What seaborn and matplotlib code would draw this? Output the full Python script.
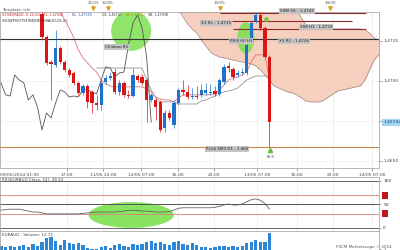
import numpy as np
import pandas as pd
import matplotlib
matplotlib.use("Agg")
import matplotlib.pyplot as plt
import seaborn as sns
from matplotlib.patches import Ellipse
from matplotlib.ticker import MultipleLocator

sns.set_style("white")
plt.rcParams['font.family'] = ['DejaVu Sans']

# ---------------- data ----------------
opens = [1.47419, 1.47275, 1.47119, 1.47100, 1.47206, 1.47119, 1.47069, 1.47050, 1.46988, 1.46925,
         1.46969, 1.46931, 1.46863, 1.46850, 1.46994, 1.47019, 1.47056, 1.46931, 1.46988, 1.46913,
         1.46906, 1.47031, 1.47025, 1.47006, 1.46881, 1.46881, 1.46869, 1.46706, 1.46800, 1.46725,
         1.46863, 1.46944, 1.46931, 1.46900, 1.46906, 1.46913, 1.46925, 1.46925, 1.46938, 1.46919,
         1.46994, 1.47094, 1.47075, 1.47038, 1.47050, 1.47050, 1.47244, 1.47375, 1.47413, 1.47331,
         1.47150]
highs = [1.47460, 1.47288, 1.47131, 1.47319, 1.47219, 1.47131, 1.47081, 1.47063, 1.47000, 1.46981,
         1.46981, 1.46944, 1.46913, 1.47006, 1.47038, 1.47056, 1.47081, 1.47006, 1.47000, 1.46944,
         1.47081, 1.47044, 1.47044, 1.47019, 1.46925, 1.46894, 1.46881, 1.46819, 1.46819, 1.46881,
         1.46956, 1.47006, 1.46975, 1.46956, 1.46969, 1.46981, 1.46988, 1.46981, 1.46969, 1.47019,
         1.47106, 1.47119, 1.47088, 1.47069, 1.47081, 1.47238, 1.47381, 1.47431, 1.47431, 1.47344,
         1.47163]
lows = [1.47256, 1.47100, 1.46881, 1.47088, 1.47106, 1.47056, 1.47025, 1.46975, 1.46913, 1.46913,
        1.46831, 1.46800, 1.46819, 1.46819, 1.46981, 1.47006, 1.46919, 1.46913, 1.46900, 1.46894,
        1.46900, 1.46994, 1.46975, 1.46744, 1.46869, 1.46756, 1.46681, 1.46681, 1.46756, 1.46706,
        1.46850, 1.46913, 1.46888, 1.46888, 1.46888, 1.46900, 1.46913, 1.46913, 1.46906, 1.46906,
        1.46981, 1.47056, 1.47006, 1.47025, 1.47038, 1.47038, 1.47256, 1.47363, 1.47319, 1.47144,
        1.46588]
closes = [1.47275, 1.47113, 1.47106, 1.47206, 1.47119, 1.47069, 1.47038, 1.46988, 1.46925, 1.46969,
          1.46869, 1.46863, 1.46850, 1.46988, 1.47019, 1.47031, 1.46931, 1.46988, 1.46913, 1.46906,
          1.47038, 1.47006, 1.46988, 1.46881, 1.46913, 1.46838, 1.46694, 1.46800, 1.46769, 1.46863,
          1.46944, 1.46931, 1.46900, 1.46906, 1.46900, 1.46944, 1.46944, 1.46931, 1.46919, 1.47006,
          1.47088, 1.47081, 1.47025, 1.47050, 1.47056, 1.47225, 1.47363, 1.47413, 1.47331, 1.47150,
          1.46742]

# Tenkan-sen (red) from bar 3 to bar 50
tenkan = [1.47475, 1.47431, 1.47381, 1.47331, 1.47269, 1.47194, 1.47144, 1.47113, 1.47081, 1.47056,
          1.47006, 1.46981, 1.46969, 1.46963, 1.46963, 1.46963, 1.46963, 1.46963, 1.46963, 1.46963,
          1.46950, 1.46931, 1.46900, 1.46888, 1.46881, 1.46881, 1.46869, 1.46894, 1.46913, 1.46913,
          1.46913, 1.46913, 1.46913, 1.46913, 1.46913, 1.46919, 1.46944, 1.46975, 1.47006, 1.47019,
          1.47025, 1.47038, 1.47056, 1.47119, 1.47163, 1.47163, 1.47163, 1.47006]
# Kijun-sen (grey) from bar 12 to bar 50
kijun = [1.47081, 1.47081, 1.47081, 1.47081, 1.47081, 1.47081, 1.47081, 1.47081, 1.47081, 1.47081,
         1.47081, 1.47006, 1.46944, 1.46894, 1.46869, 1.46869, 1.46869, 1.46869, 1.46856, 1.46856,
         1.46856, 1.46856, 1.46856, 1.46875, 1.46881, 1.46894, 1.46906, 1.46919, 1.46931, 1.46938,
         1.46944, 1.46956, 1.46981, 1.47006, 1.47019, 1.47031, 1.47031, 1.47031, 1.47031]
# Kumo (cloud) from bar 30 to bar 76
span_upper = [1.47475] * 26 + [1.47444, 1.47394, 1.47350, 1.47331] + [1.47325] * 11 + \
             [1.47319, 1.47300, 1.47269, 1.47256, 1.47244, 1.47238]
span_lower = [1.47444, 1.47400, 1.47356, 1.47325, 1.47300, 1.47256, 1.47219, 1.47181, 1.47163, 1.47150,
              1.47144, 1.47138, 1.47131, 1.47125, 1.47119, 1.47113, 1.47106, 1.47094, 1.47069, 1.47038,
              1.47006, 1.46969, 1.46956, 1.46944, 1.46931, 1.46925, 1.46913, 1.46894, 1.46875, 1.46869,
              1.46869, 1.46869, 1.46881, 1.46900, 1.46919, 1.46938, 1.46944, 1.46950, 1.46956, 1.46963,
              1.46969, 1.47006, 1.47069, 1.47131, 1.47163, 1.47170, 1.47175]

# volume and RSI from bar -9 to bar 50
volumes = [4, 3, 4, 3, 4, 5, 3, 6, 4, 8, 13, 14, 9, 5, 11, 7, 6, 7, 5, 2,
           1, 1, 3, 4, 2, 5, 6, 4, 3, 6, 5, 6, 8, 9, 7, 8, 6, 5, 8, 9,
           6, 5, 7, 5, 3, 3, 2, 3, 4, 4, 3, 4, 3, 4, 7, 8, 11, 8, 8, 18]
rsi = [38, 39, 40, 40, 40, 38, 36, 34, 34, 32, 30, 30, 30, 30, 30, 30, 30, 30, 31, 32,
       33, 34, 34, 34, 34, 34, 35, 36, 37, 38, 37, 36, 36, 35, 34, 34, 34, 35, 38, 42,
       43, 43, 43, 43, 43, 43, 43, 44, 46, 49, 51, 49, 49, 51, 56, 60, 62, 59, 52, 40]

tick_labels = ["17:00", "11/05 23:00", "12/05 07:00", "15:00", "23:00",
               "13/05 07:00", "15:00", "23:00", "14/05 07:00"]
tick_pos = [5.5, 13.4, 21.8, 29.9, 37.8, 47.3, 56.0, 64.0, 72.5]
day_labels = ["11/05", "12/05", "13/05", "14/05"]
day_pos = [11.2, 14.5, 39.1, 63.3]

# support / resistance levels: (value, start bar, end bar, label, label bar, label offset, colour)
levels = [
    (1.47263, -9.3, 74.1, "X3 R1 : 1.4726", 55.4, -0.00012, "#333333"),
    (1.47425, 39.1, 71.2, "S4W H1 : 1.4742", 56.0, 0.00010, "#8b2b2b"),
    (1.47375, 41.8, 68.1, "X3 R1 : 1.4735", 38.3, -0.00010, "#8b2b2b"),
    (1.47325, 42.0, 71.2, "308 H1 : 1.4733", 60.2, 0.00010, "#8b2b2b"),
    (1.46588, -9.3, 74.1, "PLUS SM3 D1 : 1.466", 40.7, -0.00012, "#c8874a"),
]
price_ticks = [1.4650, 1.4675, 1.4700, 1.4725]
price_tick_labels = ["1,4650", "", "1,4700", "1,4725"]
last_price = 1.46742

# ---------------- figure ----------------
W, H = 400, 250
fig = plt.figure(figsize=(4, 2.5), dpi=100)
fig.patch.set_facecolor("white")

def rect(x0, y0, x1, y1):
    return [x0 / W, 1 - y1 / H, (x1 - x0) / W, (y1 - y0) / H]

ax = fig.add_axes(rect(0, 12, 379, 168))
ax_rsi = fig.add_axes(rect(0, 177, 379, 231))
ax_vol = fig.add_axes(rect(0, 231, 379, 250))

XMIN, XMAX = -9.23, 74.07
bars = pd.DataFrame({"bar": np.arange(len(opens)), "open": opens, "high": highs,
                     "low": lows, "close": closes})
bars["up"] = bars["close"] >= bars["open"]
RED, BLUE = "#dc1414", "#1f72cc"

# cloud
cloud = pd.DataFrame({"bar": np.arange(30, 30 + len(span_upper)), "a": span_upper, "b": span_lower})
ax.fill_between(cloud["bar"], cloud["a"], cloud["b"], color="#f6cfbf", lw=0, zorder=1)
sns.lineplot(data=cloud, x="bar", y="b", ax=ax, color="#9a8a80", lw=0.5, zorder=2)
sns.lineplot(data=cloud, x="bar", y="a", ax=ax, color="#9a8a80", lw=0.5, zorder=2)

# grid
for t in tick_pos:
    ax.axvline(t, color="#e4e4e4", lw=0.4, zorder=0)
    ax_rsi.axvline(t, color="#e4e4e4", lw=0.4, zorder=0)
for p in price_ticks:
    ax.axhline(p, color="#ececec", lw=0.4, zorder=0)

# green highlight circles
ax.add_patch(Ellipse((19.6, 1.47313), 8.8, 0.0025, color="#7be04f", alpha=0.85, lw=0, zorder=3))
ax.add_patch(Ellipse((44.8, 1.47269), 3.8, 0.00195, color="#7be04f", alpha=0.85, lw=0, zorder=3))

# lines
tk = pd.DataFrame({"bar": np.arange(3, 3 + len(tenkan)), "v": tenkan})
kj = pd.DataFrame({"bar": np.arange(12, 12 + len(kijun)), "v": kijun})
ch = pd.DataFrame({"bar": bars["bar"][17:] - 26, "v": bars["close"][17:]})
sns.lineplot(data=kj, x="bar", y="v", ax=ax, color="#8c8c8c", lw=0.55, zorder=4)
sns.lineplot(data=tk, x="bar", y="v", ax=ax, color="#d86a6a", lw=0.55, zorder=4)
sns.lineplot(data=ch, x="bar", y="v", ax=ax, color="#555555", lw=0.6, zorder=4)

# candles
for _, r in bars.iterrows():
    c = BLUE if r["up"] else RED
    ax.vlines(r["bar"], r["low"], r["high"], color=c, lw=0.5, zorder=5)
    lo, hi = min(r["open"], r["close"]), max(r["open"], r["close"])
    ax.bar(r["bar"], max(hi - lo, 0.00002), bottom=lo, width=0.72, color=c, lw=0, zorder=6)

# levels
box = dict(boxstyle="square,pad=0.25", fc="#c4c4c4", ec="none")
for v, x0, x1, lab, lx, dy, col in levels:
    ax.hlines(v, x0, x1, color=col, lw=0.8, zorder=4)
    ax.text(lx, v + dy, lab, fontsize=3, color="#222222", ha="center", va="center", zorder=9, bbox=box)
ax.text(16.5, 1.47213, "Chinkou R1", fontsize=3, color="#222222", ha="center", va="center", zorder=9,
        bbox=box)
ax.text(43.7, 1.47250, "PR3l 60 H1", fontsize=3, color="#222222", ha="center", va="center", zorder=9,
        bbox=box)
ax.plot([49.2], [1.47388], marker="D", ms=2.2, color="#6fcf3f", zorder=9)
ax.plot([50.2], [1.46570], marker="^", ms=3, color="#5fbf3f", zorder=9)
ax.text(50.2, 1.46525, "+0.0", fontsize=2.6, color="#333333", ha="center", va="center", zorder=9)

ax.set_xlim(XMIN, XMAX)
ax.set_ylim(1.46456, 1.47431)
ax.yaxis.tick_right()
ax.set_yticks(price_ticks)
ax.set_yticklabels(price_tick_labels)
ax.yaxis.set_minor_locator(MultipleLocator(0.0005))
ax.set_xticks(tick_pos)
ax.set_xticklabels(tick_labels)
ax.xaxis.set_minor_locator(MultipleLocator(2))
ax.tick_params(axis="both", which="major", labelsize=3.2, length=2, width=0.4, pad=1.5,
               colors="#555555", labelcolor="#444444")
ax.tick_params(axis="both", which="minor", length=1, width=0.3, colors="#777777")
ax.tick_params(axis="x", bottom=True)
ax.tick_params(axis="y", right=True, left=False)
ax.set_xlabel("")
ax.set_ylabel("")
for s in ax.spines.values():
    s.set_color("#9a9a9a")
    s.set_linewidth(0.5)
ax.text(1.012, last_price, "1,46742", transform=ax.get_yaxis_transform(), fontsize=3.2,
        color="#1a4a7a", ha="left", va="center", clip_on=False,
        bbox=dict(boxstyle="square,pad=0.3", fc="#9fd6f4", ec="none"))
ax.text(0.0, -0.035, "09/05/2014 01:00", transform=ax.transAxes, fontsize=3.2, color="#444444",
        ha="left", va="top")

# header texts
fig.text(2 / W, 1 - 10 / H, "Template: ichi", fontsize=3.0, color="#555555", va="center")
header = [(2, "ICHI(EURAUD, 9, 26,52) - TL: 1,47032", "#c02020"),
          (72, "KL: 1,47333", "#2a4f9a"),
          (102, "CS: 1,46747", "#333333"),
          (125, "SA: 1,47032", "#d08a20"),
          (148, "SB: 1,47038", "#333333")]
for hx, txt, col in header:
    fig.text(hx / W, 1 - 15.5 / H, txt, fontsize=2.35, color=col, va="center")
fig.text(2 / W, 1 - 21 / H, "SHOWPIVOTSFINDER(EURAUD,D1,0)", fontsize=2.6, color="#333333", va="center")
for lab, p in zip(day_labels, day_pos):
    ax.text(p, 1.0 + 9 / 156, lab, transform=ax.get_xaxis_transform(), fontsize=3.0, color="#555555",
            ha="center", va="center", clip_on=False)
    ax.plot([p], [1.0 + 4.5 / 156], marker="v", ms=2.5, color="#e0a020",
            transform=ax.get_xaxis_transform(), clip_on=False)

# ---------------- RSI ----------------
rs = pd.DataFrame({"bar": np.arange(-9, -9 + len(rsi)), "rsi": rsi})
ax_rsi.add_patch(Ellipse((19.6, 27.7), 18.7, 55, color="#7be04f", alpha=0.9, lw=0, zorder=1))
for lvl, col, lw in [(100, "#666666", 0.7), (70, "#d98080", 0.6), (50, "#555555", 0.7),
                     (30, "#d98080", 0.6), (0, "#666666", 0.7)]:
    ax_rsi.axhline(lvl, color=col, lw=lw, zorder=2)
sns.lineplot(data=rs, x="bar", y="rsi", ax=ax_rsi, color="#555555", lw=0.55, zorder=3)
ax_rsi.set_xlim(XMIN, XMAX)
ax_rsi.set_ylim(-6.4, 108.5)
ax_rsi.set_xticks([])
ax_rsi.yaxis.tick_right()
ax_rsi.set_yticks([0, 50, 100])
ax_rsi.set_yticklabels(["0", "50", "100"])
ax_rsi.tick_params(axis="y", labelsize=3.2, length=1.5, width=0.4, pad=1.5, colors="#555555",
                   labelcolor="#333333", right=True)
ax_rsi.set_xlabel("")
ax_rsi.set_ylabel("")
for lvl in [30, 70]:
    ax_rsi.text(1.012, lvl, "  ", transform=ax_rsi.get_yaxis_transform(), fontsize=3, va="center",
                bbox=dict(boxstyle="square,pad=0.35", fc="#c01818", ec="none"), clip_on=False)
for s in ax_rsi.spines.values():
    s.set_color("#9a9a9a")
    s.set_linewidth(0.5)
ax_rsi.text(2 / 379, 1.0 - 1.0 / 54, "RSI(EURAUD.Close, 14): 38.43", transform=ax_rsi.transAxes,
            fontsize=3, color="#444444", va="top")

# ---------------- Volume ----------------
vol = pd.DataFrame({"bar": np.arange(-9, -9 + len(volumes)), "v": volumes})
ax_vol.bar(vol["bar"], vol["v"], width=0.72, color="#2e86d6", lw=0)
ax_vol.set_xlim(XMIN, XMAX)
ax_vol.set_ylim(0, 20)
ax_vol.set_xticks([])
ax_vol.yaxis.tick_right()
ax_vol.set_yticks([1])
ax_vol.set_yticklabels(["1"])
ax_vol.tick_params(axis="y", labelsize=3, length=1.5, width=0.4, pad=1.5, colors="#555555", right=True)
for s in ax_vol.spines.values():
    s.set_color("#9a9a9a")
    s.set_linewidth(0.5)
ax_vol.text(2 / 379, 0.92, "EURAUD - Volume: 12.72", transform=ax_vol.transAxes, fontsize=3,
            color="#444444", va="top")
fig.text(392 / W, 1 - 247 / H, "FXCM Marketscope \u00a9 2014", fontsize=3, color="#555555",
         ha="right", va="center")

fig.savefig("out.png", dpi=100, facecolor="white")
